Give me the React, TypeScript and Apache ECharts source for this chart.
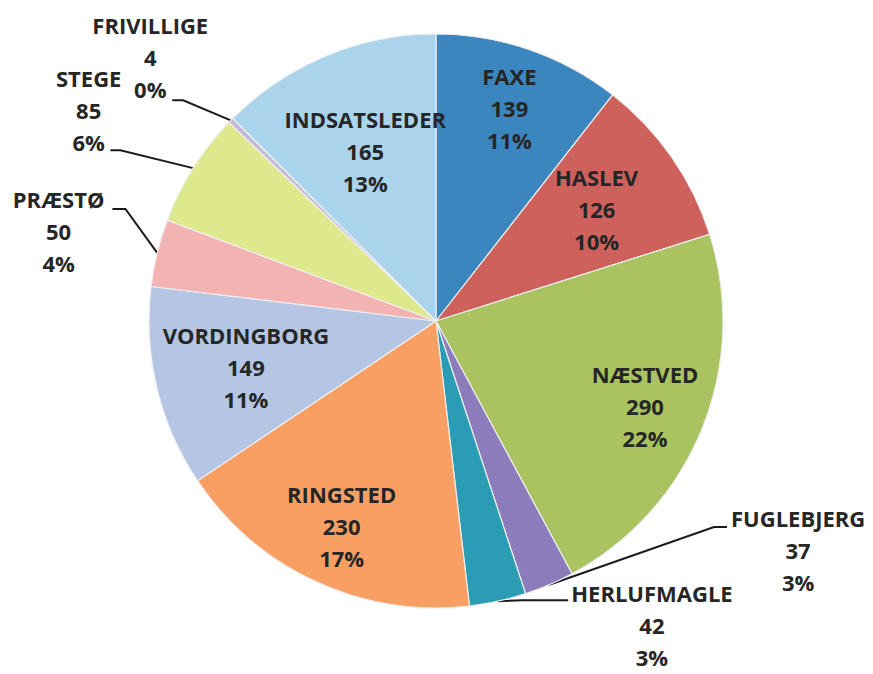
import React, { useEffect, useRef } from 'react';
import * as echarts from 'echarts';

const categories = ['FAXE', 'HASLEV', 'NÆSTVED', 'FUGLEBJERG', 'HERLUFMAGLE', 'RINGSTED', 'VORDINGBORG', 'PRÆSTØ', 'STEGE', 'FRIVILLIGE', 'INDSATSLEDER'];
const values = [139, 126, 290, 37, 42, 230, 149, 50, 85, 4, 165];
const colors = ['#3b86bf', '#cf615c', '#a8c35f', '#8d7cbc', '#2a9db5', '#f8a064', '#b5c6e4', '#f3b3b2', '#dee98e', '#c3bad6', '#a9d4eb'];

// label placement styling (not data)
const innerGroups: { names: string[]; inner: number }[] = [
  { names: ['INDSATSLEDER'], inner: 76 },
  { names: ['HASLEV', 'VORDINGBORG'], inner: 98 },
  { names: ['FAXE', 'NÆSTVED', 'RINGSTED'], inner: 158 },
];
type OuterCfg = { length: number; length2: number; dist: number; padding: number[]; attach: number; attachDy: number; hook: number };
const outerCfg: Record<string, OuterCfg> = {
  FRIVILLIGE: { length: 33, length2: 35, dist: -36, padding: [0, 0, 80, 0], attach: 2, attachDy: 6, hook: 11 },
  STEGE: { length: 41, length2: 48, dist: -11, padding: [0, 0, 72, 0], attach: 2, attachDy: 3, hook: 10 },
  'PRÆSTØ': { length: 8, length2: 37, dist: 8, padding: [0, 0, 40, 0], attach: 0, attachDy: 5, hook: 13 },
  FUGLEBJERG: { length: 2, length2: 177, dist: 4, padding: [0, 0, 73, 0], attach: 0, attachDy: 4, hook: 13 },
  HERLUFMAGLE: { length: 2, length2: 70, dist: 3, padding: [44, 0, 0, 0], attach: 0, attachDy: 2, hook: 45 },
};

const FONT = '"Open Sans", Lato, sans-serif';
const TEXT_COLOR = '#262626';
const FONT_SIZE = 22;
const LINE_H = 32;
const CX = 436;
const CY = 321;
const R = 287;

export default function App() {
  const ref = useRef<HTMLDivElement>(null);
  useEffect(() => {
    document.body.style.margin = '0';
    const chart = echarts.init(ref.current!, null, { renderer: 'svg' });
    const fmt = (p: any) => `${p.name}\n${p.value}\n${Math.round(p.percent)}%`;
    const fmtRich = (p: any) => `{t|${p.name}}\n{t|${p.value}}\n{t|${Math.round(p.percent)}%}`;
    const textStyle = {
      fontFamily: FONT,
      fontWeight: 'bold' as const,
      fontSize: FONT_SIZE,
      lineHeight: LINE_H,
      color: TEXT_COLOR,
    };

    const mainData = categories.map((name, i) => {
      const cfg = outerCfg[name];
      const item: any = {
        name,
        value: values[i],
        itemStyle: { color: colors[i] },
      };
      if (cfg) {
        item.label = {
          show: true,
          position: 'outside',
          formatter: fmtRich,
          distanceToLabelLine: cfg.dist,
          padding: cfg.padding,
          rich: { t: { ...textStyle, align: 'center' } },
        };
        item.labelLine = {
          show: true,
          length: cfg.length,
          length2: cfg.length2,
          lineStyle: { color: '#1a1a1a', width: 2 },
        };
      } else {
        item.label = { show: false };
        item.labelLine = { show: false };
      }
      return item;
    });

    // Re-shape the leader lines (Excel style: diagonal from slice edge, short horizontal hook),
    // derived from the library's own label line / label rect layout.
    const outerLabelLayout = (params: any) => {
      const cfg = outerCfg[categories[params.dataIndex]];
      const pts = params.labelLinePoints;
      if (!cfg || !pts || pts.length < 3) return { hideOverlap: false };
      const p0 = pts[0];
      const p2 = pts[2];
      const rect = params.labelRect;
      const y = rect.y + LINE_H * (cfg.attach + 0.5) + cfg.attachDy;
      const side = p2[0] < p0[0] ? 1 : -1;
      return {
        hideOverlap: false,
        labelLinePoints: [[p0[0], p0[1]], [p2[0] + side * cfg.hook, y], [p2[0], y]],
      };
    };

    const labelSeries = (names: string[], inner: number) => ({
      type: 'pie',
      silent: true,
      center: [CX, CY],
      radius: [inner, R],
      startAngle: 90,
      clockwise: true,
      avoidLabelOverlap: false,
      minShowLabelAngle: 0,
      labelLayout: { hideOverlap: false },
      z: 5,
      itemStyle: { color: 'rgba(0,0,0,0)', borderWidth: 0 },
      emphasis: { disabled: true },
      labelLine: { show: false },
      label: { show: false },
      data: categories.map((name, i) => ({
        name,
        value: values[i],
        label: names.includes(name)
          ? { show: true, position: 'inside', formatter: fmt, ...textStyle, textBorderWidth: 0 }
          : { show: false },
      })),
    });

    chart.setOption({
      animation: false,
      backgroundColor: '#ffffff',
      series: [
        {
          type: 'pie',
          center: [CX, CY],
          radius: [0, R],
          startAngle: 90,
          clockwise: true,
          avoidLabelOverlap: false,
          minShowLabelAngle: 0,
          labelLayout: outerLabelLayout,
          silent: true,
          itemStyle: { borderColor: '#eeeeee', borderWidth: 1.2 },
          emphasis: { disabled: true },
          data: mainData,
        },
        ...innerGroups.map((g) => labelSeries(g.names, g.inner)),
      ],
    } as any);
    return () => chart.dispose();
  }, []);
  return <div ref={ref} style={{ width: 873, height: 674, background: '#fff' }} />;
}
